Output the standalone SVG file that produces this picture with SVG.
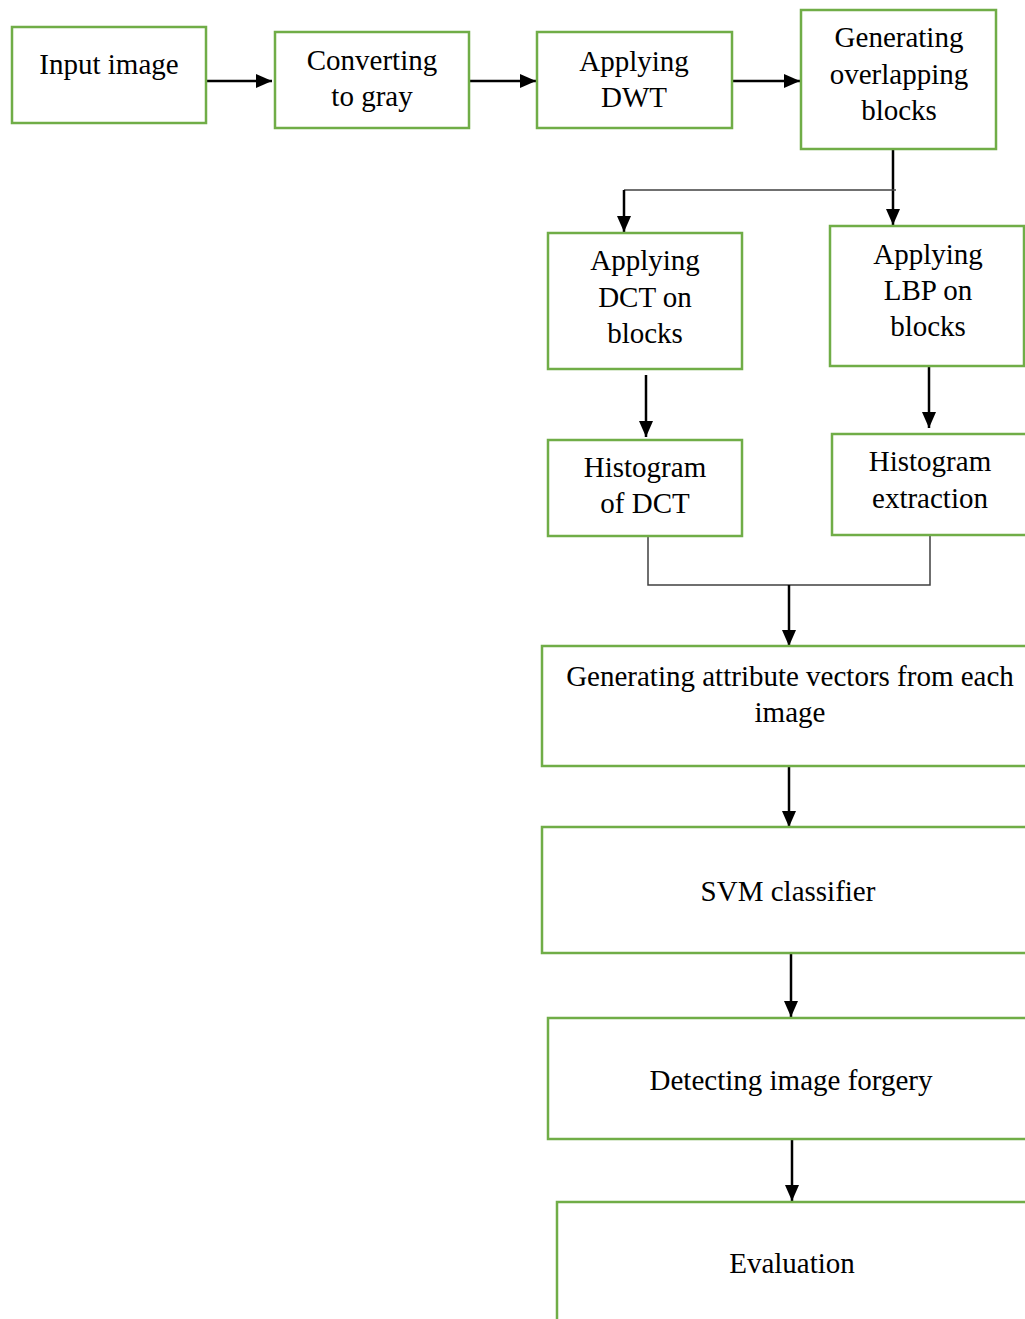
<svg xmlns="http://www.w3.org/2000/svg" width="1025" height="1319" viewBox="0 0 1025 1319">
<style>
.box{fill:#fff;stroke:#70AD47;stroke-width:2.5}
.t{font-family:"Liberation Serif","Times New Roman",serif;font-size:29px;fill:#000;text-anchor:middle}
.c{stroke:#000;stroke-width:2.5;fill:none}
.thin{stroke:#404040;stroke-width:1.5;fill:none}
</style>
<defs>
<marker id="ah" markerUnits="userSpaceOnUse" markerWidth="16" markerHeight="14" refX="16" refY="7" orient="auto">
<path d="M0,0 L16,7 L0,14 Z" fill="#000"/>
</marker>
</defs>
<rect width="1025" height="1319" fill="#fff"/>
<g id="connectors">
<line class="c" x1="206" y1="81" x2="272" y2="81" marker-end="url(#ah)"/>
<line class="c" x1="469" y1="81" x2="536" y2="81" marker-end="url(#ah)"/>
<line class="c" x1="732" y1="81" x2="800" y2="81" marker-end="url(#ah)"/>
<line class="c" x1="893" y1="148" x2="893" y2="225" marker-end="url(#ah)"/>
<line class="thin" x1="624" y1="190" x2="896" y2="190"/>
<line class="c" x1="624" y1="190" x2="624" y2="232" marker-end="url(#ah)"/>
<line class="c" x1="646" y1="375" x2="646" y2="437" marker-end="url(#ah)"/>
<line class="c" x1="929" y1="366" x2="929" y2="428" marker-end="url(#ah)"/>
<polyline class="thin" points="648,536 648,585 930,585 930,535"/>
<line class="c" x1="789" y1="585" x2="789" y2="646" marker-end="url(#ah)"/>
<line class="c" x1="789" y1="766" x2="789" y2="827" marker-end="url(#ah)"/>
<line class="c" x1="791" y1="953" x2="791" y2="1017" marker-end="url(#ah)"/>
<line class="c" x1="792" y1="1139" x2="792" y2="1201" marker-end="url(#ah)"/>
</g>
<g id="n-input"><rect class="box" x="12" y="27" width="194" height="96"/><text class="t" x="109" y="74">Input image</text></g>
<g id="n-gray"><rect class="box" x="275" y="32" width="194" height="96"/><text class="t" x="372" y="70">Converting</text><text class="t" x="372" y="106">to gray</text></g>
<g id="n-dwt"><rect class="box" x="537" y="32" width="195" height="96"/><text class="t" x="634" y="71">Applying</text><text class="t" x="634" y="107">DWT</text></g>
<g id="n-blocks"><rect class="box" x="801" y="10" width="195" height="139"/><text class="t" x="899" y="47">Generating</text><text class="t" x="899" y="84">overlapping</text><text class="t" x="899" y="120">blocks</text></g>
<g id="n-dct"><rect class="box" x="548" y="233" width="194" height="136"/><text class="t" x="645" y="270">Applying</text><text class="t" x="645" y="307">DCT on</text><text class="t" x="645" y="343">blocks</text></g>
<g id="n-lbp"><rect class="box" x="830" y="226" width="194" height="140"/><text class="t" x="928" y="264">Applying</text><text class="t" x="928" y="300">LBP on</text><text class="t" x="928" y="336">blocks</text></g>
<g id="n-histdct"><rect class="box" x="548" y="440" width="194" height="96"/><text class="t" x="645" y="477">Histogram</text><text class="t" x="645" y="513">of DCT</text></g>
<g id="n-histext"><rect class="box" x="832" y="434" width="200" height="101"/><text class="t" x="930" y="471">Histogram</text><text class="t" x="930" y="508">extraction</text></g>
<g id="n-attr"><rect class="box" x="542" y="646" width="500" height="120"/><text class="t" x="790" y="686">Generating attribute vectors from each</text><text class="t" x="790" y="722">image</text></g>
<g id="n-svm"><rect class="box" x="542" y="827" width="500" height="126"/><text class="t" x="788" y="901">SVM classifier</text></g>
<g id="n-detect"><rect class="box" x="548" y="1018" width="500" height="121"/><text class="t" x="791" y="1090">Detecting image forgery</text></g>
<g id="n-eval"><rect class="box" x="557" y="1202" width="500" height="140"/><text class="t" x="792" y="1273">Evaluation</text></g>
</svg>
